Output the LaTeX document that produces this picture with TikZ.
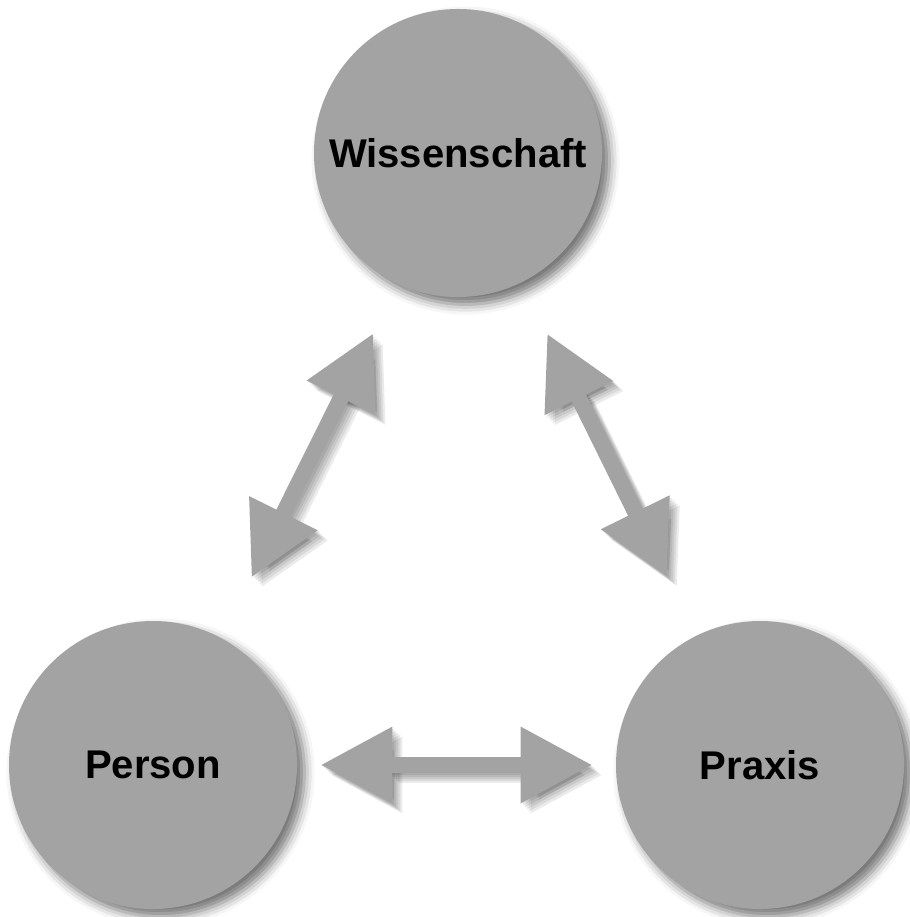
\documentclass[tikz,border=0pt]{standalone}
\usepackage{fontspec}
\setmainfont{Liberation Sans}
\usetikzlibrary{arrows.meta,shadows.blur}
\definecolor{cinza}{RGB}{163,163,163}

\tikzset{
  circulo/.style={circle, fill=cinza, minimum size=5.76cm, inner sep=0pt,
    font=\fontsize{22.8}{27}\selectfont\bfseries,
    blur shadow={shadow xshift=0.15cm, shadow yshift=-0.15cm,
      shadow blur radius=0.2cm, shadow opacity=55}},
  seta/.style={cinza, line width=0.32cm,
    {Triangle[length=1.44cm,width=1.44cm]}-{Triangle[length=1.44cm,width=1.44cm]}}
}

\begin{document}
\begin{tikzpicture}
        \useasboundingbox (0,0) rectangle (18.18,-18.34);

        % circulos
        \node[circulo] (wiss) at (9.16,-3.06) {Wissenschaft};
        \node[circulo] (person) at (3.06,-15.3) {Person};
        \node[circulo] (praxis) at (15.2,-15.3) {Praxis};

        % setas com sombra
        \foreach \a/\b/\sa/\sb/\dx in {
        person/praxis/0.46/0.46/0,
        person/wiss/1.3/1.14/0.1,
        wiss/praxis/1.14/1.31/0} {
          \foreach \d in {0.04,0.08,0.12,0.16,0.2}
            \draw[seta, black, opacity=0.08, shorten <=\sa cm, shorten >=\sb cm,
              transform canvas={shift={(\d+\dx,-\d)}}] (\a) -- (\b);
          \draw[seta, shorten <=\sa cm, shorten >=\sb cm,
            transform canvas={xshift=\dx cm}] (\a) -- (\b);
        }
    \end{tikzpicture}
\end{document}
